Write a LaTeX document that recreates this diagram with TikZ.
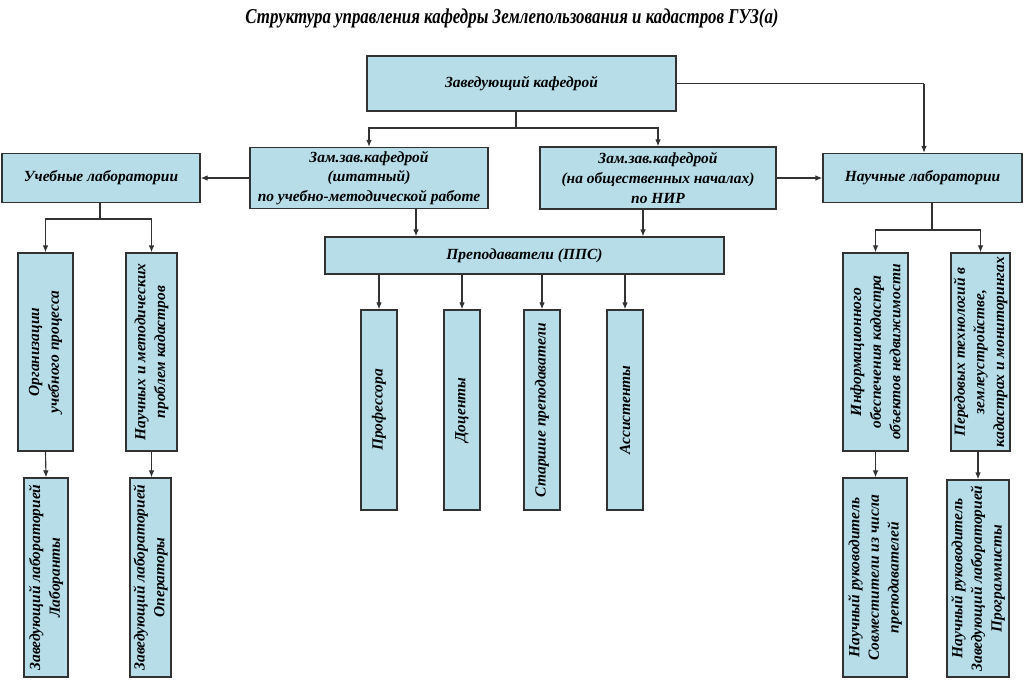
\documentclass[tikz,border=0pt]{standalone}
\usepackage{fontspec}
\setmainfont{Liberation Serif}
\newfontfamily\titlefont[FakeStretch=0.8]{Liberation Serif}
\usetikzlibrary{arrows.meta}
\definecolor{boxblue}{RGB}{183,221,232}
\definecolor{linegray}{RGB}{50,50,50}
\begin{document}
\begin{tikzpicture}[x=0.025cm, y=-0.025cm,
  every node/.style={font=\fontsize{11}{14}\selectfont\bfseries\itshape, align=center, inner sep=1pt},
  box/.style={draw=linegray, line width=0.9pt, fill=boxblue},
  vbox/.style={box, rotate=90},
  link/.style={draw=linegray, line width=0.8pt},
  arr/.style={link, -{Latex[length=5pt, width=4pt]}}]
\useasboundingbox (0,0) rectangle (1024,680);
\node[font=\titlefont\fontsize{15}{18}\selectfont\bfseries\itshape] (title) at (512,18) {Структура управления кафедры Землепользования и кадастров ГУЗ(а)};

\node[box, minimum width=7.725cm, minimum height=1.375cm] (chief) at (521.5,83.5) {Заведующий кафедрой};
\node[box, minimum width=5.95cm, minimum height=1.525cm] (depL) at (369,178) {Зам.зав.кафедрой\\(штатный)\\по учебно-методической работе};
\node[box, minimum width=5.9cm, minimum height=1.55cm] (depR) at (658,178) {Зам.зав.кафедрой\\(на общественных началах)\\по НИР};
\node[box, minimum width=4.95cm, minimum height=1.225cm] (uchLab) at (101,178) {Учебные лаборатории};
\node[box, minimum width=4.975cm, minimum height=1.225cm] (nauLab) at (922.5,178) {Научные лаборатории};
\node[box, minimum width=9.975cm, minimum height=0.925cm] (pps) at (524.5,255.5) {Преподаватели (ППС)};

% teachers
\node[vbox, minimum width=5cm, minimum height=0.9cm] (prof) at (379,410) {Профессора};
\node[vbox, minimum width=5cm, minimum height=0.9cm] (doc) at (462,410) {Доценты};
\node[vbox, minimum width=5cm, minimum height=0.9cm] (star) at (542,410) {Старшие преподаватели};
\node[vbox, minimum width=5cm, minimum height=0.9cm] (asst) at (625,410) {Ассистенты};

% teaching labs
\node[vbox, minimum width=4.95cm, minimum height=1.375cm] (orgL) at (45.5,352) {Организации\\учебного процесса};
\node[vbox, minimum width=4.95cm, minimum height=1.275cm] (metL) at (151.5,352) {Научных и методических\\проблем кадастров};
\node[vbox, minimum width=4.975cm, minimum height=1.1cm] (labL) at (46,577.5) {Заведующий лабораторией\\Лаборанты};
\node[vbox, minimum width=4.975cm, minimum height=1.025cm] (opL) at (150.5,577.5) {Заведующий лабораторией\\Операторы};

% research labs
\node[vbox, minimum width=4.95cm, minimum height=1.625cm] (infL) at (875.5,352) {Информационного\\обеспечения кадастра\\объектов недвижимости};
\node[vbox, minimum width=4.95cm, minimum height=1.475cm] (tecL) at (980.5,352) {Передовых технологий в\\землеустройстве,\\кадастрах и мониторингах};
\node[vbox, minimum width=4.975cm, minimum height=1.6cm] (sovL) at (875,577.5) {Научный руководитель\\Совместители из числа\\преподавателей};
\node[vbox, minimum width=4.925cm, minimum height=1.55cm] (progL) at (978,578.5) {Научный руководитель\\Заведующий лабораторией\\Программисты};

\coordinate (fTop) at (516,128);
\coordinate (fL) at (100,219);
\coordinate (fR) at (932,230);
\coordinate (cR) at (924,83.5);

\draw[link] (chief.south -| fTop) -- (fTop);
\draw[arr] (fTop) -| (depL.north);
\draw[arr] (fTop) -| (depR.north);
\draw[link] (chief.east) -- (cR);
\draw[arr] (cR) -- (cR |- nauLab.north);
\draw[arr] (depL.west) -- (uchLab.east);
\draw[arr] (depR.east) -- (nauLab.west);
\draw[arr] (depL.south -| 416,0) -- (pps.north -| 416,0);
\draw[arr] (depR.south -| 643,0) -- (pps.north -| 643,0);

\foreach \n in {prof,doc,star,asst}
  \draw[arr] (pps.south -| \n.east) -- (\n.east);

\draw[link] (uchLab.south -| fL) -- (fL);
\draw[arr] (fL) -| (orgL.east);
\draw[arr] (fL) -| (metL.east);
\draw[arr] (orgL.west) -- (labL.east);
\draw[arr] (metL.west) -- (metL.west |- opL.east);

\draw[link] (nauLab.south -| fR) -- (fR);
\draw[arr] (fR) -| (infL.east);
\draw[arr] (fR) -| (tecL.east);
\draw[arr] (infL.west) -- (infL.west |- sovL.east);
\draw[arr] (tecL.west -| progL.east) -- (progL.east);
\end{tikzpicture}
\end{document}
